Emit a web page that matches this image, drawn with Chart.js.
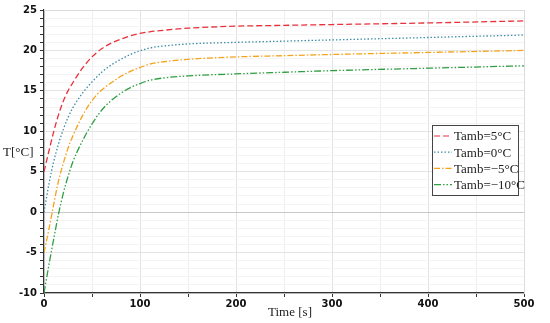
<!DOCTYPE html>
<html>
<head>
<meta charset="utf-8">
<script src="https://cdn.jsdelivr.net/npm/chart.js@4"></script>
<style>
  html, body { margin: 0; padding: 0; background: #fff; }
  #wrap { width: 550px; height: 323px; }
</style>
</head>
<body>
<div id="wrap"><canvas id="chart"></canvas></div>
<script>

// time points [s]
const time = [0, 5, 10, 15, 20, 25, 30, 40, 50, 60, 70, 80, 90, 100, 110, 125, 150, 200, 250, 300, 400, 500];

// temperatures [°C]
const tamb5  = [5, 7.5, 9.9, 12.0, 13.7, 15.0, 16.0, 17.8, 19.2, 20.2, 20.9, 21.4, 21.8, 22.1, 22.3, 22.5, 22.75, 23.0, 23.1, 23.2, 23.4, 23.65];
const tamb0  = [0, 3.4, 6.2, 8.4, 10.2, 11.7, 12.9, 14.7, 16.1, 17.3, 18.2, 18.9, 19.5, 19.95, 20.3, 20.55, 20.8, 21.0, 21.15, 21.3, 21.6, 21.9];
const tambM5 = [-5, -2.2, 0.9, 3.8, 6.0, 7.9, 9.4, 11.9, 13.8, 15.1, 16.0, 16.8, 17.4, 17.9, 18.3, 18.6, 18.9, 19.2, 19.35, 19.5, 19.75, 20.0];
const tambM10 = [-10, -6.6, -3.4, -0.3, 2.3, 4.4, 6.2, 8.8, 10.9, 12.6, 13.8, 14.7, 15.4, 15.9, 16.3, 16.6, 16.85, 17.1, 17.3, 17.5, 17.8, 18.1];

const labels = ['Tamb=5°C', 'Tamb=0°C', 'Tamb=\u22125°C', 'Tamb=\u221210°C'];
const series = [tamb5, tamb0, tambM5, tambM10];

const colors = ['#e8303a', '#3f8fa8', '#f5a21c', '#2f9e44'];
const dashes = [[6, 3], [1.5, 2], [6, 2, 1.5, 2], [7, 2, 1.5, 2, 1.5, 2]];

const toPoints = (ys) => time.map((t, i) => ({ x: t, y: ys[i] }));

// labels and legend drawn by hand (legend sits inside the plot)
const extras = {
    id: 'extras',
    afterDraw(chart) {

        let ctx = chart.ctx;

        ctx.save();
        ctx.fillStyle = '#222';
        ctx.font = '13px "Liberation Serif"';
        ctx.textBaseline = 'middle';
        ctx.textAlign = 'left';
        ctx.fillText('T[°C]', 3, 153);
        ctx.textAlign = 'center';
        ctx.fillText('Time [s]', 290, 313);

        // legend box
        let lx = 432, ly = 125, lw = 86, lh = 70;
        ctx.fillStyle = '#fff';
        ctx.fillRect(lx, ly, lw, lh);
        ctx.strokeStyle = '#444';
        ctx.lineWidth = 1;
        ctx.setLineDash([]);
        ctx.strokeRect(lx + 0.5, ly + 0.5, lw, lh);

        ctx.textAlign = 'left';
        ctx.font = '13px "Liberation Serif"';
        labels.forEach((lab, i) => {
            let y = ly + 11 + i * 16.2;
            ctx.strokeStyle = colors[i];
            ctx.lineWidth = 1.2;
            ctx.setLineDash(dashes[i]);
            ctx.beginPath();
            ctx.moveTo(lx + 2, y);
            ctx.lineTo(lx + 20, y);
            ctx.stroke();
            ctx.fillStyle = '#222';
            ctx.fillText(lab, lx + 22, y + 1);
        });

        ctx.restore();
    }
};

let ctx = document.getElementById('chart').getContext('2d');

new Chart(ctx, {
    type: 'line',
    data: {
        datasets: series.map((ys, i) => ({
            label: labels[i],
            data: toPoints(ys),
            borderColor: colors[i],
            borderWidth: 1.3,
            borderDash: dashes[i],
            pointRadius: 0,
            fill: false,
            cubicInterpolationMode: 'monotone'
        }))
    },
    options: {
        responsive: true,
        maintainAspectRatio: false,
        animation: false,
        layout: { padding: { top: 10, right: 26, left: 0, bottom: 0 } },
        plugins: {
            legend: { display: false },
            tooltip: { enabled: false }
        },
        scales: {
            x: {
                type: 'linear',
                min: 0,
                max: 500,
                ticks: {
                    stepSize: 50,
                    maxRotation: 0,
                    color: '#111',
                    font: { family: 'DejaVu Sans', size: 10, weight: 'bold' },
                    padding: 1,
                    callback: (v) => v % 100 === 0 ? v : ''
                },
                grid: {
                    color: (c) => c.tick && c.tick.value % 100 === 0 ? '#e2e2e2' : '#efefef',
                    tickColor: '#333',
                    tickLength: 4
                },
                border: { color: '#333', width: 1.2 },
                afterFit: (s) => { s.height = 30; }
            },
            y: {
                min: -10,
                max: 25,
                ticks: {
                    stepSize: 1,
                    color: '#111',
                    font: { family: 'DejaVu Sans', size: 10, weight: 'bold' },
                    padding: 3,
                    autoSkip: false,
                    callback: (v) => v % 5 === 0 ? v : ''
                },
                grid: {
                    color: (c) => {
                        if (!c.tick) return '#f3f3f3';
                        if (c.tick.value === 0) return '#c8c8c8';
                        return c.tick.value % 5 === 0 ? '#e4e4e4' : '#f4f4f4';
                    },
                    tickColor: '#333',
                    tickLength: 4
                },
                border: { color: '#333', width: 1.2 },
                afterFit: (s) => { s.width = 44; }
            },
            x2: {
                type: 'linear',
                position: 'top',
                min: 0,
                max: 500,
                ticks: { display: false },
                grid: { display: false },
                border: { color: '#dcdcdc', width: 1 },
                afterFit: (s) => { s.height = 0; }
            },
            y2: {
                position: 'right',
                min: -10,
                max: 25,
                ticks: { display: false },
                grid: { display: false },
                border: { color: '#dcdcdc', width: 1 },
                afterFit: (s) => { s.width = 0; }
            }
        }
    },
    plugins: [extras]
});

</script>
</body>
</html>
